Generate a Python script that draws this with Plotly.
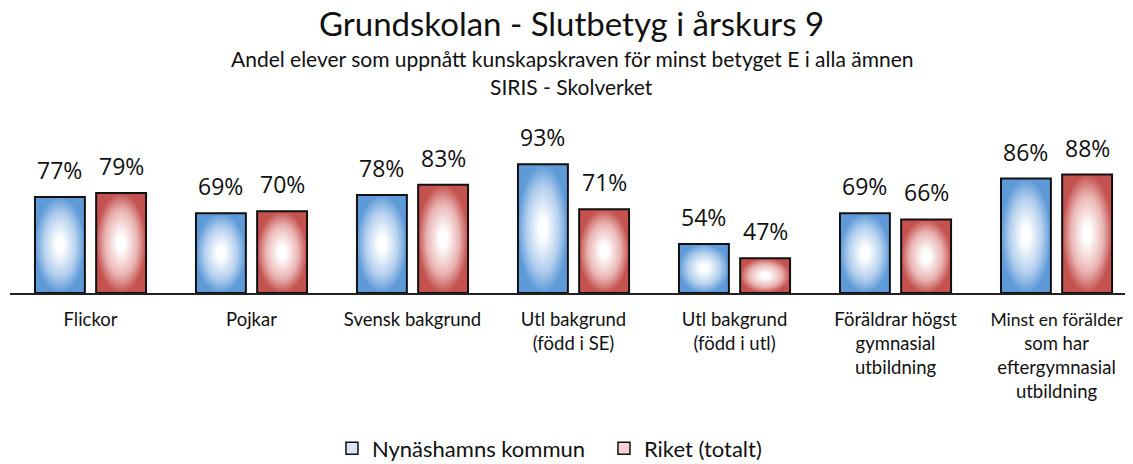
import plotly.graph_objects as go

categories = ["Flickor", "Pojkar", "Svensk bakgrund", "Utl bakgrund<br>(född i SE)",
              "Utl bakgrund<br>(född i utl)", "Föräldrar högst<br>gymnasial<br>utbildning",
              "<span style=\"font-size:17.5px\">Minst en förälder</span><br>som har<br>eftergymnasial<br>utbildning"]
nynashamn = [77, 69, 78, 93, 54, 69, 86]
riket = [79, 70, 83, 71, 47, 66, 88]
series_names = ["Nynäshamns kommun", "Riket (totalt)"]

BASE = 30
HALF = 0.155
OFFS = [-0.19, 0.19]
SCALES = [
    [[0, "#ffffff"], [0.15, "#ffffff"], [0.65, "#b3cfee"], [1, "#5e9ad8"]],
    [[0, "#ffffff"], [0.15, "#ffffff"], [0.65, "#e9b4b2"], [1, "#c4524f"]],
]
LEGFILL = ["#d6e6f6", "#f1d4d3"]
LABEL_FONT = "Open Sans"
TEXT_FONT = "Lato"

fig = go.Figure()

for s, (vals, cs) in enumerate(zip([nynashamn, riket], SCALES)):
    for i, v in enumerate(vals):
        c = i + OFFS[s]
        fig.add_trace(go.Scatter(
            x=[c - HALF, c - HALF, c + HALF, c + HALF, c - HALF],
            y=[BASE, v, v, BASE, BASE],
            mode="lines", fill="toself",
            fillgradient=dict(type="radial", colorscale=cs),
            line=dict(color="#111111", width=2),
            hoverinfo="skip", showlegend=False))
        fig.add_annotation(x=c, y=v, text=f"{v}%", showarrow=False,
                           yanchor="middle", yshift=27,
                           font=dict(family=LABEL_FONT, size=23, color="#111111"))

for s in range(2):
    fig.add_trace(go.Bar(x=[None], y=[None], name=series_names[s],
                         marker=dict(color=LEGFILL[s], line=dict(color="#111111", width=1.5))))

fig.add_annotation(xref="paper", yref="paper", x=0.5, y=1, yanchor="middle", yshift=92,
                   text="Andel elever som uppnått kunskapskraven för minst betyget E i alla ämnen",
                   showarrow=False, font=dict(family=TEXT_FONT, size=21, color="#111111"))
fig.add_annotation(xref="paper", yref="paper", x=0.5, y=1, yanchor="middle", yshift=64,
                   text="SIRIS - Skolverket", showarrow=False,
                   font=dict(family=TEXT_FONT, size=21, color="#111111"))

fig.update_layout(
    width=1125, height=456,
    margin=dict(l=2, r=0, t=142, b=171),
    paper_bgcolor="white", plot_bgcolor="white",
    title=dict(text="Grundskolan - Slutbetyg i årskurs 9", x=0.5, xref="paper",
               xanchor="center", yref="container", y=0.965, yanchor="middle",
               font=dict(family=TEXT_FONT, size=33, color="#111111")),
    xaxis=dict(range=[-0.5, 6.475], tickmode="array", tickvals=list(range(7)),
               ticktext=categories, showgrid=False, zeroline=False,
               showline=True, linecolor="#222222", linewidth=1.5, ticks="",
               ticklabelstandoff=9,
               tickfont=dict(family=TEXT_FONT, size=18.5, color="#111111")),
    yaxis=dict(range=[BASE, 100], visible=False),
    legend=dict(orientation="h", x=0.2867, xanchor="left", yref="container",
                y=0.034, yanchor="middle", font=dict(family=TEXT_FONT, size=22, color="#111111"),
                itemwidth=30, entrywidth=227, entrywidthmode="pixels"),
)

fig.write_html("out.html")
